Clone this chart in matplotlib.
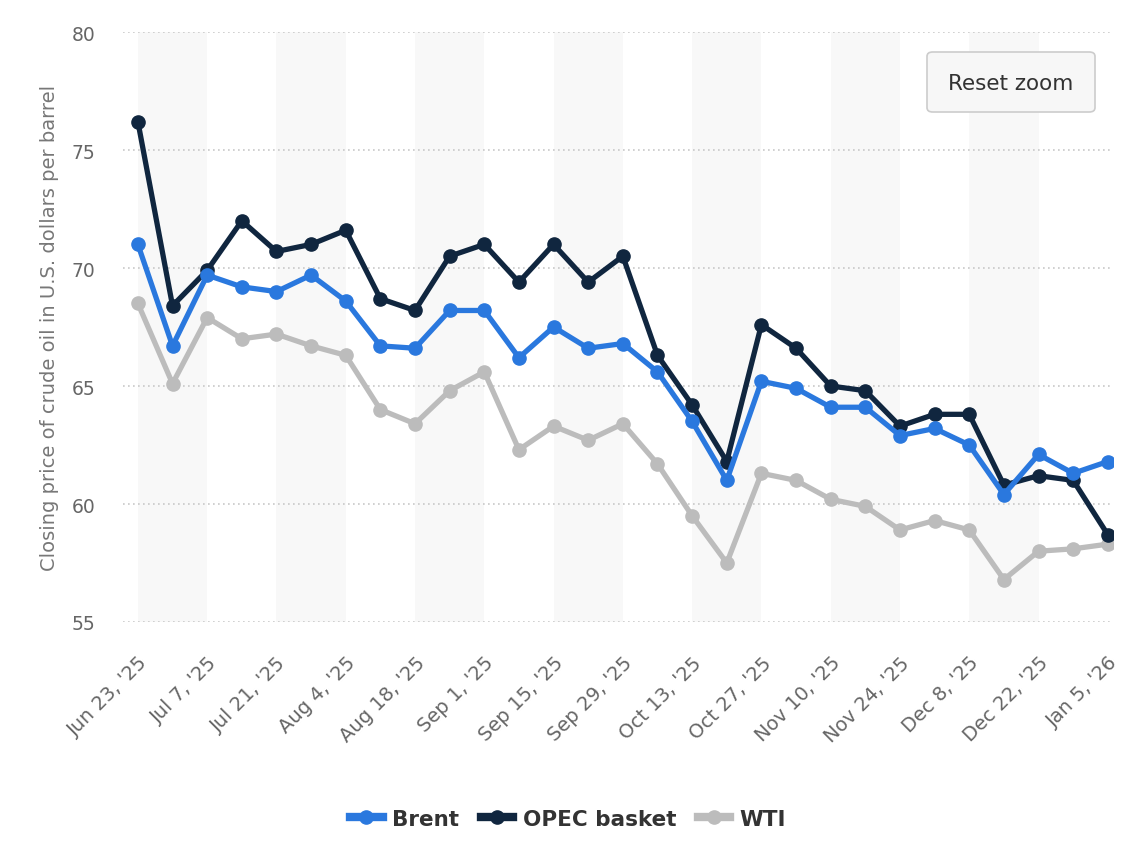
import numpy as np
import matplotlib
matplotlib.use("Agg")
import matplotlib.pyplot as plt
from matplotlib.patches import FancyBboxPatch

plt.rcParams['font.family'] = ['DejaVu Sans']

# weekly closing prices, U.S. dollars per barrel
weeks = ["Jun 23, '25", "Jun 30, '25", "Jul 7, '25", "Jul 14, '25", "Jul 21, '25",
         "Jul 28, '25", "Aug 4, '25", "Aug 11, '25", "Aug 18, '25", "Aug 25, '25",
         "Sep 1, '25", "Sep 8, '25", "Sep 15, '25", "Sep 22, '25", "Sep 29, '25",
         "Oct 6, '25", "Oct 13, '25", "Oct 20, '25", "Oct 27, '25", "Nov 3, '25",
         "Nov 10, '25", "Nov 17, '25", "Nov 24, '25", "Dec 1, '25", "Dec 8, '25",
         "Dec 15, '25", "Dec 22, '25", "Dec 29, '25", "Jan 5, '26"]

brent = [71.0, 66.7, 69.7, 69.2, 69.0, 69.7, 68.6, 66.7, 66.6, 68.2,
         68.2, 66.2, 67.5, 66.6, 66.8, 65.6, 63.5, 61.0, 65.2, 64.9,
         64.1, 64.1, 62.9, 63.2, 62.5, 60.4, 62.1, 61.3, 61.8]

opec = [76.2, 68.4, 69.9, 72.0, 70.7, 71.0, 71.6, 68.7, 68.2, 70.5,
        71.0, 69.4, 71.0, 69.4, 70.5, 66.3, 64.2, 61.8, 67.6, 66.6,
        65.0, 64.8, 63.3, 63.8, 63.8, 60.8, 61.2, 61.0, 58.7]

wti = [68.5, 65.1, 67.9, 67.0, 67.2, 66.7, 66.3, 64.0, 63.4, 64.8,
       65.6, 62.3, 63.3, 62.7, 63.4, 61.7, 59.5, 57.5, 61.3, 61.0,
       60.2, 59.9, 58.9, 59.3, 58.9, 56.8, 58.0, 58.1, 58.3]

series = [("Brent", brent, "#2a78de"),
          ("OPEC basket", opec, "#10263f"),
          ("WTI", wti, "#bcbcbc")]

fig = plt.figure(figsize=(11.48, 8.62), dpi=100)
ax = fig.add_axes([123 / 1148, 1 - 623 / 862, (1113 - 123) / 1148, (623 - 33) / 862])

x = np.arange(len(weeks))

# alternating light bands, two weeks wide
for start in range(0, len(weeks) - 1, 4):
    ax.axvspan(start, start + 2, color="#f8f8f8", zorder=0, lw=0)

for yv in range(55, 81, 5):
    ax.axhline(yv, color="#c8c8c8", lw=1.2, ls=(0, (1, 2)), zorder=1)

for name, vals, col in series[::-1]:
    ax.plot(x, vals, color=col, lw=3.8, marker="o", markersize=9.5,
            solid_joinstyle="round", zorder=3, label=name)

ax.set_xlim(-0.43, 28.15)
ax.set_ylim(55, 80)
ax.set_yticks(range(55, 81, 5))
ax.set_xticks(x[::2])
ax.set_xticklabels(weeks[::2], rotation=45, ha="right", rotation_mode="anchor")
ax.tick_params(axis="both", length=0, labelcolor="#666666")
ax.tick_params(axis="y", labelsize=13.5, pad=20)
ax.tick_params(axis="x", labelsize=14, pad=22)
for s in ax.spines.values():
    s.set_visible(False)

ax.set_ylabel("Closing price of crude oil in U.S. dollars per barrel",
              fontsize=14, color="#777777", labelpad=9)

handles, labels = ax.get_legend_handles_labels()
leg = fig.legend(handles[::-1], labels[::-1], loc="center", bbox_to_anchor=(0.495, 1 - 820 / 862),
                 ncol=3, frameon=False, handlelength=1.5, columnspacing=1.0,
                 handletextpad=0.45, prop={"weight": "bold", "size": 15.5})
for t in leg.get_texts():
    t.set_color("#333333")
for ln in leg.get_lines():
    ln.set_linewidth(6)

# reset zoom button
btn = FancyBboxPatch((927 / 1148, 1 - 113 / 862), 168 / 1148, 60 / 862,
                     boxstyle="round,pad=0,rounding_size=0.005",
                     transform=fig.transFigure, facecolor="#f7f7f7",
                     edgecolor="#cccccc", lw=1.2, zorder=5)
fig.patches.append(btn)
fig.text(1011 / 1148, 1 - 84 / 862, "Reset zoom", ha="center", va="center",
         fontsize=15.5, color="#333333", zorder=6)

fig.savefig("out.png", dpi=100)
